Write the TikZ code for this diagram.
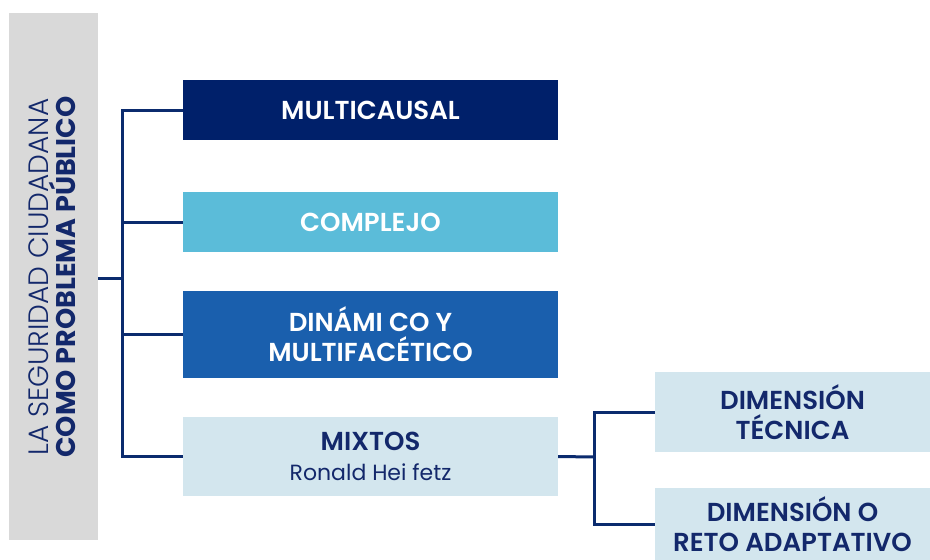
\documentclass[tikz,border=0pt]{standalone}
\usepackage{fontspec}
\setmainfont{Poppins}[BoldFont={Poppins SemiBold}]
\newfontfamily\lightfont{Poppins Light}
\newfontfamily\heavyfont{Poppins Bold}
\definecolor{navy}{HTML}{00206A}
\definecolor{lnavy}{HTML}{0B2B6E}
\definecolor{skyb}{HTML}{5BBCD9}
\definecolor{midb}{HTML}{1A5FAD}
\definecolor{paleb}{HTML}{D3E6EE}
\definecolor{grayb}{HTML}{D9D9D9}
\definecolor{txtnavy}{HTML}{13286B}
\begin{document}
\begin{tikzpicture}[x=1pt,y=-1pt,
  box/.style={draw=none,inner sep=0pt,align=center,font=\fontsize{26}{30}\selectfont\bfseries},
  conn/.style={draw=lnavy,line width=3pt}]
\useasboundingbox (0,0) rectangle (930,560);
\fill[white] (0,0) rectangle (930,560);
% left gray
\fill[grayb] (9,13) rectangle (98,540);
\node[rotate=90,align=center,text=txtnavy,inner sep=0pt] (root) at (52,277)
  {\fontsize{28}{34}\selectfont\lightfont LA SEGURIDAD CIUDADANA\\
   \fontsize{27}{34}\selectfont\heavyfont COMO PROBLEMA PÚBLICO};
\coordinate (rootE) at (98,278);
% boxes
\node[box,fill=navy,text=white,minimum width=375pt,minimum height=60pt] (b1) at (370.5,110) {MULTICAUSAL};
\node[box,fill=skyb,text=white,minimum width=375pt,minimum height=60pt] (b2) at (370.5,222) {COMPLEJO};
\node[box,fill=midb,text=white,minimum width=375pt,minimum height=87pt] (b3) at (370.5,334.5) {DINÁMI CO Y\\MULTIFACÉTICO};
\node[box,fill=paleb,text=txtnavy,minimum width=375pt,minimum height=79pt] (b4) at (370.5,456.5) {MIXTOS\\{\fontsize{22}{30}\selectfont\mdseries Ronald Hei fetz}};
\node[box,fill=paleb,text=txtnavy,minimum width=275pt,minimum height=80pt] (c1) at (792.5,412) {DIMENSIÓN\\TÉCNICA};
\node[box,fill=paleb,text=txtnavy,minimum width=275pt,minimum height=72pt] (c2) at (792.5,524) {DIMENSIÓN O\\RETO ADAPTATIVO};
% connectors
\coordinate (j1) at (122,278);
\draw[conn] (rootE) -- (j1);
\draw[conn] (b1.west) -| (j1) |- (b4.west);
\draw[conn] (j1 |- b2.west) -- (b2.west);
\draw[conn] (j1 |- b3.west) -- (b3.west);
\coordinate (j2) at (594,457);
\draw[conn] (b4.east) -- (j2);
\draw[conn] (c1.west) -| (j2) |- (c2.west);
\end{tikzpicture}
\end{document}
